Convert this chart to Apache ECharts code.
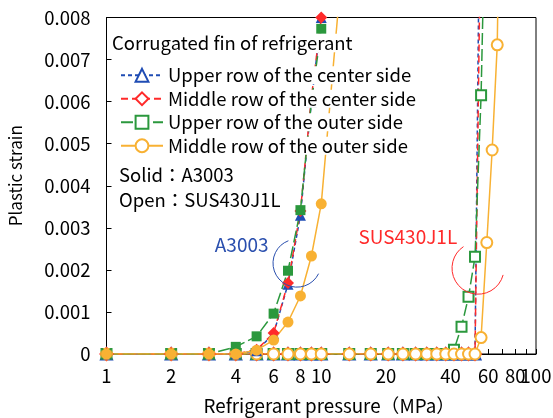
<!DOCTYPE html>
<html>
<head>
<meta charset="utf-8">
<script src="https://cdn.jsdelivr.net/npm/echarts@6/dist/echarts.min.js"></script>
<style>
  html, body { margin: 0; padding: 0; background: #fff; }
  #chart { width: 553px; height: 418px; }
</style>
</head>
<body>
<div id="chart"></div>
<script>
// Plastic strain of corrugated fins vs. refrigerant pressure (log x axis)
const FONT = '"Noto Sans CJK JP", "Liberation Sans", sans-serif';
const FS = 18.5;

const seriesNames = [
  'Upper row of the center side',
  'Middle row of the center side',
  'Upper row of the outer side',
  'Middle row of the outer side'
];
const seriesColors = ['#1f4cb4', '#ff2a2a', '#2b983d', '#f8b133'];

// Pressure steps (MPa)
const pressureA3003 = [1, 2, 3, 4, 5, 6, 7, 8, 9, 10, 13.5];
const pressureSUS = [1, 2, 3, 4, 5, 6, 7, 8, 9, 10,
  13.5, 17, 20.5, 24, 27.5, 31, 34.5, 38, 41.5, 45, 48.5, 52,
  55.5, 59, 62.5, 66, 69.5];

// A3003 (solid markers)
const upperCenterA3003 = [0, 0, 0, 0, 0.00008, 0.00048, 0.00166, 0.0033, 0.0060, 0.0080];
const middleCenterA3003 = [0, 0, 0, 0, 0.0001, 0.0005, 0.00169, 0.0034, 0.0061, 0.0080];
const upperOuterA3003 = [0, 0, 0, 0.00017, 0.00042, 0.00096, 0.00198, 0.00342, 0.0060, 0.00773];
const middleOuterA3003 = [0, 0, 0, 0, 0.00009, 0.00033, 0.00076, 0.00138, 0.00233, 0.00357, 0.0112];

// SUS430J1L (open markers)
const upperCenterSUS = [0, 0, 0, 0, 0, 0, 0, 0, 0, 0,
  0, 0, 0, 0, 0, 0, 0, 0, 0, 0, 0, 0,
  0.014];
const middleCenterSUS = [0, 0, 0, 0, 0, 0, 0, 0, 0, 0,
  0, 0, 0, 0, 0, 0, 0, 0, 0, 0, 0, 0,
  0.011];
const upperOuterSUS = [0, 0, 0, 0, 0, 0, 0, 0, 0, 0,
  0, 0, 0, 0, 0, 0, 0, 0, 0.0001, 0.00065, 0.00136, 0.00231,
  0.00615, 0.0125];
const middleOuterSUS = [0, 0, 0, 0, 0, 0, 0, 0, 0, 0,
  0, 0, 0, 0, 0, 0, 0, 0, 0, 0, 0, 0,
  0.00039, 0.00265, 0.00485, 0.00735, 0.015];

// Axis ticks / labels
const xTickValues = [1, 2, 3, 4, 5, 6, 7, 8, 9, 10, 20, 30, 40, 50, 60, 70, 80, 90, 100];
const xLabelValues = [1, 2, 4, 6, 8, 10, 20, 40, 60, 80];
const xEndLabelValues = [100];

// Annotation anchors in data space [pressure, strain]
const a3003LabelAt = [4.26, 0.00259];
const a3003ArcAt = [7.71, 0.00216];
const susLabelAt = [25.3, 0.00279];
const susArcAt = [53.7, 0.00204];

const lineDashes = [[4, 3], [7, 4], [12, 4], 'solid'];
const openSymbols = ['emptyTriangle', 'emptyDiamond', 'emptyRect', 'emptyCircle'];
const solidSymbols = ['triangle', 'diamond', 'rect', 'circle'];
const symbolSizes = [11, 12, 10, 11];

function pairs(xs, ys) {
  return ys.map((v, i) => [xs[i], v]);
}

const susValues = [upperCenterSUS, middleCenterSUS, upperOuterSUS, middleOuterSUS];
const a3003Values = [upperCenterA3003, middleCenterA3003, upperOuterA3003, middleOuterA3003];

const series = [];
susValues.forEach((vals, i) => {
  series.push({
    name: seriesNames[i],
    type: 'line',
    xAxisIndex: 0,
    data: pairs(pressureSUS, vals),
    symbol: openSymbols[i],
    symbolSize: symbolSizes[i],
    showAllSymbol: true,
    clip: true,
    lineStyle: { color: seriesColors[i], width: 1.5, type: lineDashes[i] },
    itemStyle: { color: seriesColors[i], borderWidth: 1.5 }
  });
});
a3003Values.forEach((vals, i) => {
  series.push({
    name: seriesNames[i],
    type: 'line',
    xAxisIndex: 0,
    data: pairs(pressureA3003, vals),
    symbol: solidSymbols[i],
    symbolSize: symbolSizes[i],
    showAllSymbol: true,
    clip: true,
    lineStyle: { color: seriesColors[i], width: 1.5, type: lineDashes[i] },
    itemStyle: { color: seriesColors[i] }
  });
});

const labelStyle = { fontSize: FS, color: '#000', margin: 13, fontFamily: FONT,
  hideOverlap: false, formatter: v => String(Math.round(v)) };

const chart = echarts.init(document.getElementById('chart'), null, { renderer: 'canvas' });

chart.setOption({
  animation: false,
  backgroundColor: '#fff',
  textStyle: { fontFamily: FONT },
  grid: {
    left: 106.5, right: 17, top: 17.5, bottom: 64,
    show: true, borderColor: '#000', borderWidth: 1, backgroundColor: 'transparent',
    containLabel: false,
    outerBoundsMode: 'none'
  },
  legend: {
    orient: 'vertical',
    left: 120, top: 66,
    padding: 0,
    itemWidth: 42, itemHeight: 16, itemGap: 5,
    data: seriesNames,
    selectedMode: false,
    textStyle: { fontSize: FS, lineHeight: 18, color: '#000', fontFamily: FONT, backgroundColor: '#fff', padding: [0, 2, 0, 0] }
  },
  xAxis: [{
    type: 'log',
    logBase: 10,
    min: 1, max: 100,
    position: 'bottom',
    name: 'Refrigerant pressure（MPa）',
    nameLocation: 'middle',
    nameGap: 42,
    nameTextStyle: { fontSize: 18.8, color: '#000', fontFamily: FONT, padding: [0, 0, 0, 16] },
    axisLine: { lineStyle: { color: '#000', width: 1 } },
    axisTick: { inside: true, length: 5, lineStyle: { color: '#000' }, customValues: xTickValues },
    axisLabel: Object.assign({ customValues: xLabelValues }, labelStyle),
    splitLine: { show: false },
    minorTick: { show: false }
  }, {
    // end label of the pressure axis
    type: 'log',
    logBase: 10,
    min: 1, max: 100,
    position: 'bottom',
    axisLine: { show: false },
    axisTick: { show: false },
    axisLabel: Object.assign({ customValues: xEndLabelValues }, labelStyle),
    splitLine: { show: false }
  }],
  yAxis: {
    type: 'value',
    min: 0, max: 0.008, interval: 0.001,
    name: 'Plastic strain',
    nameLocation: 'middle',
    nameGap: 82,
    nameRotate: 90,
    nameTextStyle: { fontSize: 17, color: '#000', fontFamily: FONT, padding: [0, 0, 0, 20] },
    axisLine: { show: true, lineStyle: { color: '#000', width: 1 } },
    axisTick: { show: true, inside: true, length: 5, lineStyle: { color: '#000' } },
    axisLabel: { fontSize: FS, color: '#000', margin: 16, fontFamily: FONT,
      formatter: v => (v === 0 ? '0' : v.toFixed(3)) },
    splitLine: { show: false }
  },
  series: series
});

// Annotations placed from data coordinates
const px = p => chart.convertToPixel({ xAxisIndex: 0, yAxisIndex: 0 }, p);
const aLbl = px(a3003LabelAt), aArc = px(a3003ArcAt);
const sLbl = px(susLabelAt), sArc = px(susArcAt);
const deg = d => d * Math.PI / 180;

chart.setOption({
  graphic: [
    { type: 'text', z: 10, x: 112, y: 43,
      style: { text: 'Corrugated fin of refrigerant', font: FS + 'px ' + FONT, fill: '#000', backgroundColor: '#fff', verticalAlign: 'middle' } },
    { type: 'text', z: 10, x: 119, y: 175,
      style: { text: 'Solid：A3003', font: FS + 'px ' + FONT, fill: '#000', verticalAlign: 'middle' } },
    { type: 'text', z: 10, x: 119, y: 200,
      style: { text: 'Open：SUS430J1L', font: FS + 'px ' + FONT, fill: '#000', verticalAlign: 'middle' } },
    { type: 'text', z: 10, x: aLbl[0], y: aLbl[1],
      style: { text: 'A3003', font: '19px ' + FONT, fill: '#2a4fae', align: 'center', verticalAlign: 'middle' } },
    { type: 'text', z: 10, x: sLbl[0], y: sLbl[1],
      style: { text: 'SUS430J1L', font: '19px ' + FONT, fill: '#ff2a2a', align: 'center', verticalAlign: 'middle' } },
    { type: 'arc', z: 10,
      shape: { cx: aArc[0], cy: aArc[1], r: 24, startAngle: deg(26), endAngle: deg(249), clockwise: true },
      style: { stroke: '#2a4fae', fill: 'none', lineWidth: 1 } },
    { type: 'arc', z: 10,
      shape: { cx: sArc[0], cy: sArc[1], r: 26, startAngle: deg(15), endAngle: deg(236), clockwise: true },
      style: { stroke: '#ff2a2a', fill: 'none', lineWidth: 1 } }
  ]
});
</script>
</body>
</html>
